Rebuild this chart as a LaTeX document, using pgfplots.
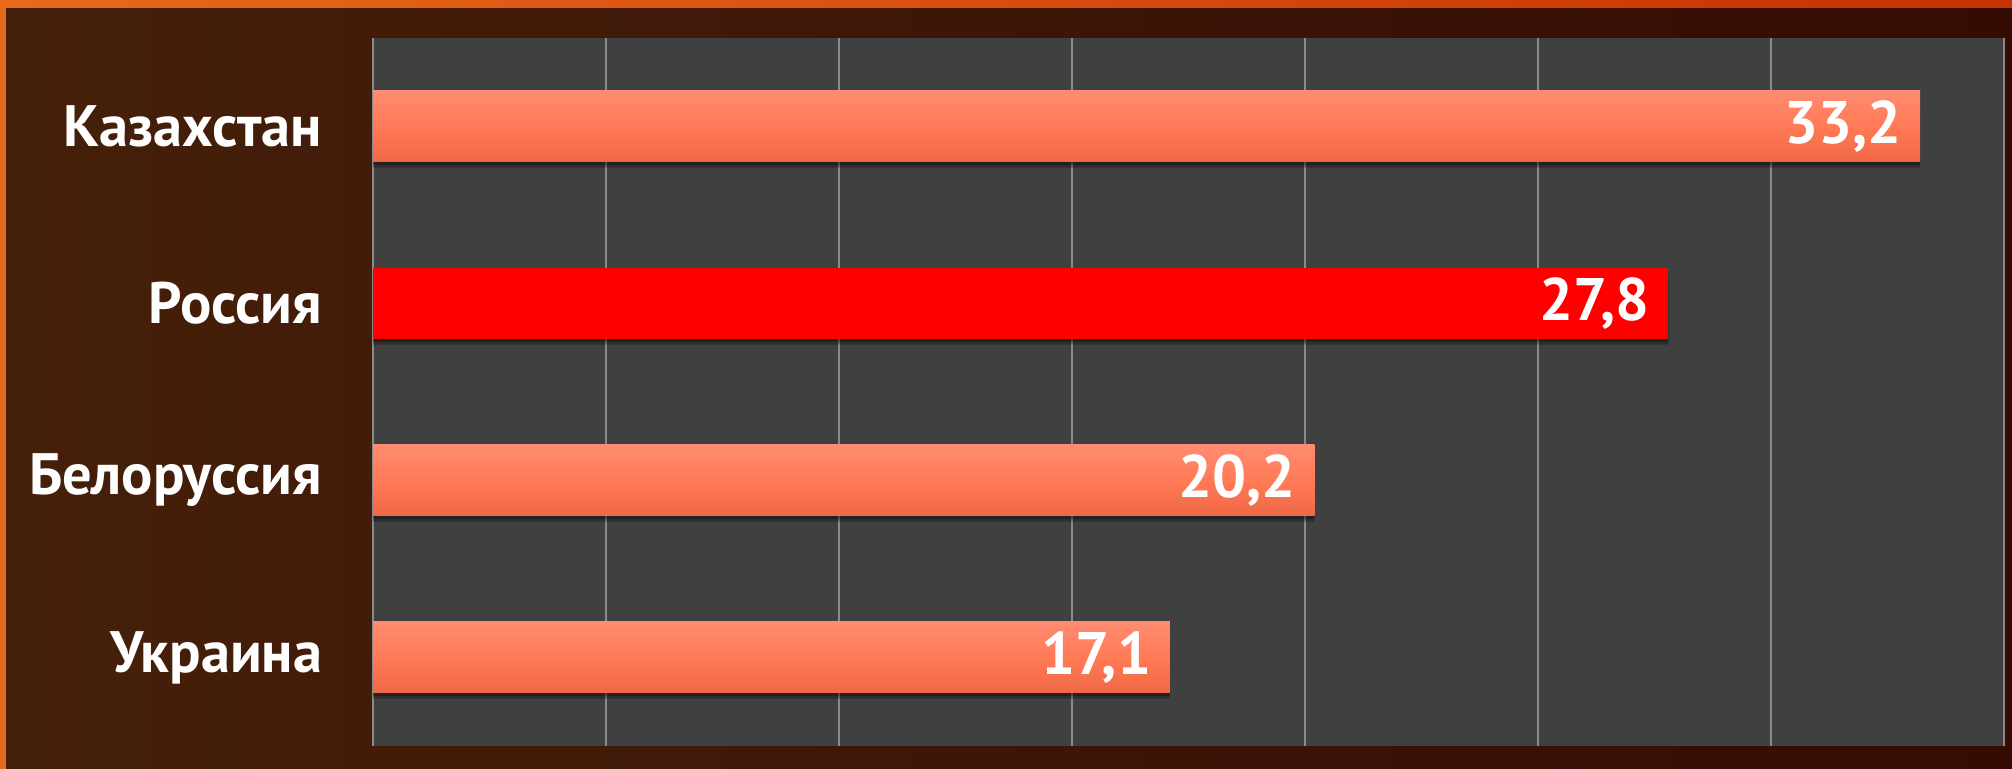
\documentclass[border=0pt]{standalone}
\usepackage{fontspec}
\setmainfont{PT Sans}
\usepackage{pgfplots}
\pgfplotsset{compat=1.18}

\definecolor{frameor}{HTML}{E8691C}
\definecolor{frameor2}{HTML}{C63200}
\definecolor{panelL}{HTML}{45200A}
\definecolor{panelR}{HTML}{360B03}
\definecolor{plotbg}{HTML}{404040}
\definecolor{gridc}{HTML}{8A8A8A}
\definecolor{barTop}{HTML}{FF8C72}
\definecolor{barMid}{HTML}{FF7A55}
\definecolor{barBot}{HTML}{F06846}

\pgfplotsset{
  coralbar/.style={draw=none, top color=barTop, bottom color=barBot,
    middle color=barMid, nodes near coords},
  shadowbar/.style={draw=none, fill=black, fill opacity=0.28, bar shift=-1.4pt},
}

\begin{document}
\begin{tikzpicture}
% background: orange frame and dark panel
\shade[left color=frameor, right color=frameor2] (0,0) rectangle (503pt,192.25pt);
\shade[left color=panelL, right color=panelR] (1.5pt,0) rectangle (503pt,190pt);

\begin{axis}[
  at={(93.25pt,5.75pt)}, anchor=south west,
  scale only axis,
  width=407.75pt, height=177pt,
  xmin=0, xmax=35,
  xtick={0,5,...,35},
  xticklabels={},
  ymin=-0.5, ymax=3.5,
  ytick={0,1,2,3},
  yticklabels={Украина,Белоруссия,Россия,Казахстан},
  axis background/.style={fill=plotbg},
  axis line style={draw=none},
  major tick length=0pt,
  xmajorgrids,
  grid style={gridc, line width=0.4pt},
  yticklabel style={font=\fontsize{14.6}{16}\selectfont\bfseries, text=white,
    anchor=east, inner sep=0pt, xshift=-12.5pt},
  xbar, bar width=17.75pt, bar shift=0pt,
  /pgf/number format/.cd, use comma, fixed, fixed zerofill, precision=1,
  assume math mode=true,
  /pgfplots/.cd,
  every node near coord/.append style={font=\fontsize{15}{17}\selectfont\bfseries,
    text=white, anchor=east, inner sep=0pt, xshift=-4.5pt},
]
% soft shadows under the bars
\addplot[shadowbar] coordinates {(17.1,0) (20.2,1) (27.8,2) (33.2,3)};
\addplot[shadowbar, bar shift=-0.7pt, fill opacity=0.25]
  coordinates {(17.1,0) (20.2,1) (27.8,2) (33.2,3)};
% bars
\addplot[coralbar] coordinates {(17.1,0)};
\addplot[coralbar] coordinates {(20.2,1)};
\addplot[draw=none, fill=red, nodes near coords] coordinates {(27.8,2)};
\addplot[coralbar] coordinates {(33.2,3)};
\end{axis}
\pgfresetboundingbox
\path (0,0) rectangle (503pt,192.25pt);
\end{tikzpicture}
\end{document}
